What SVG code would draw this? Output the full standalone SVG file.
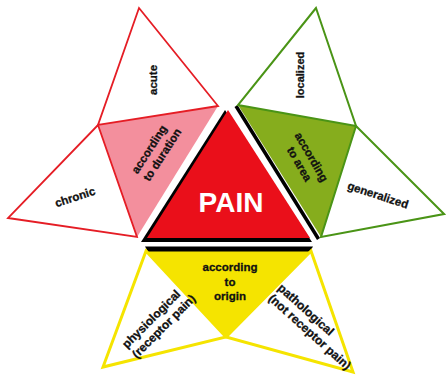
<svg xmlns="http://www.w3.org/2000/svg" width="446" height="376" viewBox="0 0 446 376">
<style>
.bg{fill:#ffffff}
.rs{fill:#ffffff;stroke:#e51d25;stroke-width:1.8;stroke-linejoin:miter}
.gs{fill:#ffffff;stroke:#4a9416;stroke-width:2;stroke-linejoin:miter}
.ys{fill:#ffffff;stroke:#f5e400;stroke-width:3;stroke-linejoin:miter}
.t{font-family:"Liberation Sans",Arial,sans-serif;font-weight:bold;font-size:11.5px;fill:#111111;stroke:#111111;stroke-width:0.3}
.tb{font-family:"Liberation Sans",Arial,sans-serif;font-weight:bold;font-size:12px;fill:#111111;stroke:#111111;stroke-width:0.3}
.pain{font-family:"Liberation Sans",Arial,sans-serif;font-weight:bold;font-size:28px;fill:#ffffff}
</style>
<rect class="bg" x="0" y="0" width="446" height="376"/>
<g id="connectors"/>

<g id="node-duration">
<polygon points="98,125 218,106 137,237" fill="#f38f9d"/>
<g transform="translate(155,153) rotate(-57)">
<text class="t" x="-27.5" y="-3">according</text>
<text class="t" x="-27.5" y="11">to duration</text>
</g>
</g>
<g id="node-acute">
<polygon class="rs" points="139,8 218,106 98,125"/>
<text class="t" transform="translate(153,80) rotate(-90)" x="0" y="4" text-anchor="middle">acute</text>
</g>
<g id="node-chronic">
<polygon class="rs" points="98,125 137,237 8,218"/>
<text class="t" transform="translate(75,197) rotate(-18)" x="0" y="4" text-anchor="middle">chronic</text>
</g>

<g id="node-area">
<polygon points="238,105 356,126 321,237" fill="#86ad1d"/>
<line x1="236" y1="106" x2="318.5" y2="239" stroke="#000000" stroke-width="3.5"/>
<g transform="translate(305.5,160.5) rotate(60)">
<text class="t" x="0" y="-3" text-anchor="middle">according</text>
<text class="t" x="0" y="11" text-anchor="middle">to area</text>
</g>
</g>
<g id="node-localized">
<polygon class="gs" points="316,8 238,105 356,126"/>
<text class="t" transform="translate(300,75) rotate(-90)" x="0" y="4" text-anchor="middle" style="font-size:11px">localized</text>
</g>
<g id="node-generalized">
<polygon class="gs" points="356,126 444,214 321,237"/>
<text class="t" transform="translate(378,195) rotate(18)" x="0" y="4" text-anchor="middle">generalized</text>
</g>

<g id="node-origin">
<polygon points="145,249 312,249 226,337" fill="#f5e400"/>
<polygon points="145,246.5 313,246.5 310,251.5 148,251.5" fill="#000000"/>
<text class="t" x="230" y="271" text-anchor="middle">according</text>
<text class="t" x="230" y="286" text-anchor="middle">to</text>
<text class="t" x="230" y="300" text-anchor="middle">origin</text>
</g>
<g id="node-physiological">
<polygon class="ys" points="146,251 226,337 103,367"/>
<g transform="translate(127,349) rotate(-45)">
<text class="tb" x="0" y="0">physiological</text>
<text class="tb" x="0" y="14">(receptor pain)</text>
</g>
</g>
<g id="node-pathological">
<polygon class="ys" points="311,251 226,337 353,372"/>
<g transform="translate(277,289) rotate(42)">
<text class="tb" x="0" y="0">pathological</text>
<text class="tb" x="0" y="14">(not receptor pain)</text>
</g>
</g>

<g id="node-pain">
<polygon points="225,110 141,242 312,242" fill="#000000"/>
<polygon points="228,110 147,238 310,238" fill="#ea0f1a"/>
<text class="pain" x="231" y="212" text-anchor="middle">PAIN</text>
</g>
</svg>
